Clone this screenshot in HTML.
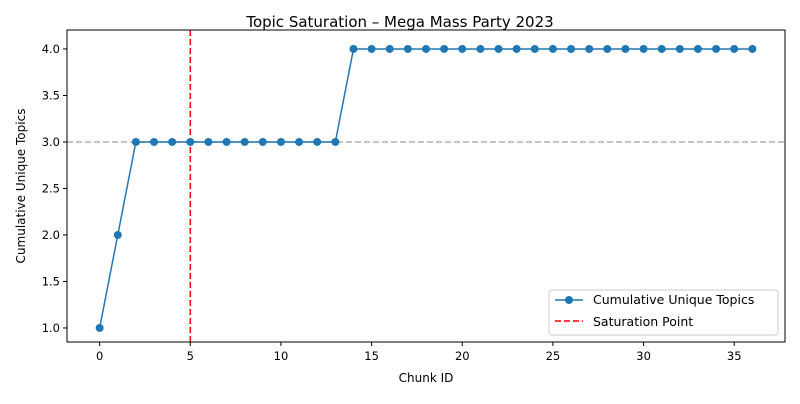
<!DOCTYPE html>
<html><head><meta charset="utf-8"><style>
body{margin:0;background:#fff;font-family:"DejaVu Sans","Liberation Sans",sans-serif;}
svg text{font-family:"DejaVu Sans","Liberation Sans",sans-serif;}
</style></head><body>
<svg id="chart" width="800" height="400" xmlns="http://www.w3.org/2000/svg"></svg>
<script>
const chunkIds = [];
for (let i = 0; i <= 36; i++) chunkIds.push(i);
const cumulativeTopics = [1,2,3,3,3,3,3,3,3,3,3,3,3,3,4,4,4,4,4,4,4,4,4,4,4,4,4,4,4,4,4,4,4,4,4,4,4];
const xTicks = [0,5,10,15,20,25,30,35];
const yTicks = [1.0,1.5,2.0,2.5,3.0,3.5,4.0];
const saturationPoint = 5;
const referenceLevel = 3;

const L=67,R=785,T=30,B=342;
const xMin=-1.8,xMax=37.8,yMin=0.849,yMax=4.204;
const sx=v=>L+(v-xMin)/(xMax-xMin)*(R-L);
const sy=v=>B-(v-yMin)/(yMax-yMin)*(B-T);
const svg=document.getElementById('chart');
const NS='http://www.w3.org/2000/svg';
function mk(tag,attrs,parent){const e=document.createElementNS(NS,tag);for(const k in attrs)e.setAttribute(k,attrs[k]);(parent||svg).appendChild(e);return e;}

let t=mk('text',{x:400,y:27,'text-anchor':'middle','font-size':15,fill:'#000'});


t.textContent='Topic Saturation – Mega Mass Party 2023';

let rl=mk('line',{x1:L,x2:R,y1:sy(referenceLevel),y2:sy(referenceLevel),stroke:'#b0b0b0','stroke-width':1.5,'stroke-dasharray':'6,3'});



let sl=mk('line',{x1:sx(saturationPoint),x2:sx(saturationPoint),y1:T,y2:B,stroke:'#ff0000','stroke-width':1.5,'stroke-dasharray':'6,3'});



let pts=chunkIds.map((c,i)=>sx(c)+','+sy(cumulativeTopics[i])).join(' ');
let pl=mk('polyline',{points:pts,fill:'none',stroke:'#1f77b4','stroke-width':1.5});


chunkIds.forEach((c,i)=>{
  let p=mk('circle',{cx:sx(c),cy:sy(cumulativeTopics[i]),r:4,fill:'#1f77b4'});
  
  
});

let ax=mk('rect',{x:L,y:T,width:R-L,height:B-T,fill:'none',stroke:'#000','stroke-width':1});



xTicks.forEach(v=>{
  mk('line',{x1:sx(v),x2:sx(v),y1:B,y2:B+4,stroke:'#000'});
  let tx=mk('text',{x:sx(v),y:B+18,'text-anchor':'middle','font-size':11.5,fill:'#000'});
  
  
  tx.textContent=v;
});
yTicks.forEach(v=>{
  mk('line',{x1:L-4,x2:L,y1:sy(v),y2:sy(v),stroke:'#000'});
  let tx=mk('text',{x:L-7,y:sy(v)+4,'text-anchor':'end','font-size':11.5,fill:'#000'});
  
  
  tx.textContent=v.toFixed(1);
});
let xl=mk('text',{x:(L+R)/2,y:382,'text-anchor':'middle','font-size':12,fill:'#000'});


xl.textContent='Chunk ID';
let yl=mk('text',{x:25,y:(T+B)/2,'text-anchor':'middle','font-size':12,fill:'#000',transform:'rotate(-90 25 '+((T+B)/2)+')'});


yl.textContent='Cumulative Unique Topics';

let lg=mk('g',{});


mk('rect',{x:549,y:290,width:229,height:45,rx:3,fill:'#fff',stroke:'#ccc'},lg);
mk('line',{x1:555,x2:583,y1:300,y2:300,stroke:'#1f77b4','stroke-width':1.5},lg);
mk('circle',{cx:569,cy:300,r:4,fill:'#1f77b4'},lg);
let l1=mk('text',{x:593,y:304,'font-size':12.5,fill:'#000'},lg);


l1.textContent='Cumulative Unique Topics';
mk('line',{x1:555,x2:583,y1:321,y2:321,stroke:'#ff0000','stroke-width':1.5,'stroke-dasharray':'6,3'},lg);
let l2=mk('text',{x:593,y:326,'font-size':12.5,fill:'#000'},lg);


l2.textContent='Saturation Point';
</script>
</body></html>
